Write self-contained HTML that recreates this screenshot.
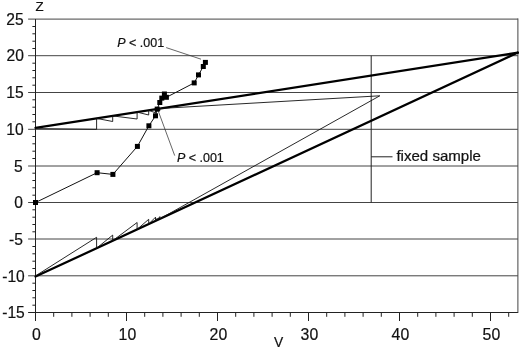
<!DOCTYPE html><html><head><meta charset="utf-8"><title>Sequential plot</title>
<style>html,body{margin:0;padding:0;background:#fff}svg{display:block}text{font-family:"Liberation Sans",Arial,sans-serif;fill:#111;stroke:#111;stroke-width:0.2px}</style></head><body>
<svg width="520" height="349" viewBox="0 0 520 349">
<rect width="520" height="349" fill="#fff"/>
<g stroke="#444" stroke-width="1" fill="none">
<line x1="28.1" y1="275.8" x2="517.9" y2="275.8"/>
<line x1="28.1" y1="239.0" x2="517.9" y2="239.0"/>
<line x1="28.1" y1="202.5" x2="517.9" y2="202.5"/>
<line x1="28.1" y1="166.0" x2="517.9" y2="166.0"/>
<line x1="28.1" y1="129.3" x2="517.9" y2="129.3"/>
<line x1="28.1" y1="92.5" x2="517.9" y2="92.5"/>
<line x1="28.1" y1="55.7" x2="517.9" y2="55.7"/>
<line x1="28.1" y1="19.1" x2="517.9" y2="19.1"/>
<line x1="517.9" y1="18.4" x2="517.9" y2="313.0"/>
</g>
<g stroke="#222" stroke-width="1" fill="none">
<line x1="32.4" y1="305.2" x2="35.5" y2="305.2"/>
<line x1="32.4" y1="297.8" x2="35.5" y2="297.8"/>
<line x1="32.4" y1="290.5" x2="35.5" y2="290.5"/>
<line x1="32.4" y1="283.2" x2="35.5" y2="283.2"/>
<line x1="32.4" y1="268.5" x2="35.5" y2="268.5"/>
<line x1="32.4" y1="261.2" x2="35.5" y2="261.2"/>
<line x1="32.4" y1="253.8" x2="35.5" y2="253.8"/>
<line x1="32.4" y1="246.5" x2="35.5" y2="246.5"/>
<line x1="32.4" y1="231.8" x2="35.5" y2="231.8"/>
<line x1="32.4" y1="224.5" x2="35.5" y2="224.5"/>
<line x1="32.4" y1="217.2" x2="35.5" y2="217.2"/>
<line x1="32.4" y1="209.8" x2="35.5" y2="209.8"/>
<line x1="32.4" y1="195.2" x2="35.5" y2="195.2"/>
<line x1="32.4" y1="187.8" x2="35.5" y2="187.8"/>
<line x1="32.4" y1="180.5" x2="35.5" y2="180.5"/>
<line x1="32.4" y1="173.2" x2="35.5" y2="173.2"/>
<line x1="32.4" y1="158.5" x2="35.5" y2="158.5"/>
<line x1="32.4" y1="151.2" x2="35.5" y2="151.2"/>
<line x1="32.4" y1="143.8" x2="35.5" y2="143.8"/>
<line x1="32.4" y1="136.5" x2="35.5" y2="136.5"/>
<line x1="32.4" y1="121.8" x2="35.5" y2="121.8"/>
<line x1="32.4" y1="114.5" x2="35.5" y2="114.5"/>
<line x1="32.4" y1="107.2" x2="35.5" y2="107.2"/>
<line x1="32.4" y1="99.8" x2="35.5" y2="99.8"/>
<line x1="32.4" y1="85.2" x2="35.5" y2="85.2"/>
<line x1="32.4" y1="77.8" x2="35.5" y2="77.8"/>
<line x1="32.4" y1="70.5" x2="35.5" y2="70.5"/>
<line x1="32.4" y1="63.2" x2="35.5" y2="63.2"/>
<line x1="32.4" y1="48.5" x2="35.5" y2="48.5"/>
<line x1="32.4" y1="41.2" x2="35.5" y2="41.2"/>
<line x1="32.4" y1="33.8" x2="35.5" y2="33.8"/>
<line x1="32.4" y1="26.5" x2="35.5" y2="26.5"/>
<line x1="35.5" y1="19.1" x2="35.5" y2="321.0"/>
<line x1="28.1" y1="312.5" x2="517.9" y2="312.5"/>
<line x1="53.7" y1="312.5" x2="53.7" y2="316.8"/>
<line x1="71.9" y1="312.5" x2="71.9" y2="316.8"/>
<line x1="90.1" y1="312.5" x2="90.1" y2="316.8"/>
<line x1="108.3" y1="312.5" x2="108.3" y2="316.8"/>
<line x1="126.5" y1="312.5" x2="126.5" y2="321.0"/>
<line x1="144.7" y1="312.5" x2="144.7" y2="316.8"/>
<line x1="162.9" y1="312.5" x2="162.9" y2="316.8"/>
<line x1="181.1" y1="312.5" x2="181.1" y2="316.8"/>
<line x1="199.3" y1="312.5" x2="199.3" y2="316.8"/>
<line x1="217.5" y1="312.5" x2="217.5" y2="321.0"/>
<line x1="235.7" y1="312.5" x2="235.7" y2="316.8"/>
<line x1="253.9" y1="312.5" x2="253.9" y2="316.8"/>
<line x1="272.1" y1="312.5" x2="272.1" y2="316.8"/>
<line x1="290.3" y1="312.5" x2="290.3" y2="316.8"/>
<line x1="308.5" y1="312.5" x2="308.5" y2="321.0"/>
<line x1="326.7" y1="312.5" x2="326.7" y2="316.8"/>
<line x1="344.9" y1="312.5" x2="344.9" y2="316.8"/>
<line x1="363.1" y1="312.5" x2="363.1" y2="316.8"/>
<line x1="381.3" y1="312.5" x2="381.3" y2="316.8"/>
<line x1="399.5" y1="312.5" x2="399.5" y2="321.0"/>
<line x1="417.7" y1="312.5" x2="417.7" y2="316.8"/>
<line x1="435.9" y1="312.5" x2="435.9" y2="316.8"/>
<line x1="454.1" y1="312.5" x2="454.1" y2="316.8"/>
<line x1="472.3" y1="312.5" x2="472.3" y2="316.8"/>
<line x1="490.5" y1="312.5" x2="490.5" y2="321.0"/>
<line x1="508.7" y1="312.5" x2="508.7" y2="316.8"/>
</g>
<text transform="translate(24.75,318.35) scale(0.975,1)" font-size="16" text-anchor="end">-15</text>
<text transform="translate(24.75,281.50) scale(0.975,1)" font-size="16" text-anchor="end">-10</text>
<text transform="translate(22.95,244.80) scale(0.975,1)" font-size="16" text-anchor="end">-5</text>
<text transform="translate(22.95,208.25) scale(0.975,1)" font-size="16" text-anchor="end">0</text>
<text transform="translate(22.70,171.50) scale(0.975,1)" font-size="16" text-anchor="end">5</text>
<text transform="translate(23.70,134.50) scale(0.975,1)" font-size="16" text-anchor="end">10</text>
<text transform="translate(23.70,98.25) scale(0.975,1)" font-size="16" text-anchor="end">15</text>
<text transform="translate(23.85,61.35) scale(0.975,1)" font-size="16" text-anchor="end">20</text>
<text transform="translate(23.70,24.50) scale(0.975,1)" font-size="16" text-anchor="end">25</text>
<text transform="translate(36.40,339.50) scale(0.99,1)" font-size="16" text-anchor="middle">0</text>
<text transform="translate(127.40,339.50) scale(0.99,1)" font-size="16" text-anchor="middle">10</text>
<text transform="translate(218.40,339.50) scale(0.99,1)" font-size="16" text-anchor="middle">20</text>
<text transform="translate(309.40,339.50) scale(0.99,1)" font-size="16" text-anchor="middle">30</text>
<text transform="translate(400.40,339.50) scale(0.99,1)" font-size="16" text-anchor="middle">40</text>
<text transform="translate(491.40,339.50) scale(0.99,1)" font-size="16" text-anchor="middle">50</text>
<text transform="translate(35.60,11.40) scale(1.0,1)" font-size="13.3" text-anchor="start">Z</text>
<text transform="translate(274.00,347.30) scale(1.0,1)" font-size="13.8" text-anchor="start">V</text>
<g stroke="#222" stroke-width="1" fill="none"><line x1="371.2" y1="55.7" x2="371.2" y2="202.5"/><line x1="371.2" y1="156.8" x2="392.5" y2="156.8"/></g>
<text transform="translate(396.40,161.30) scale(1.077,1)" font-size="14" text-anchor="start" stroke-width="0.15">fixed sample</text>
<g stroke="#000" stroke-width="2.25" stroke-linecap="round" fill="none">
<line x1="35.5" y1="127.9" x2="517.9" y2="52.7"/>
<line x1="35.5" y1="276.6" x2="517.9" y2="52.6"/>
</g>
<g stroke="#111" stroke-width="0.9" fill="none" stroke-linejoin="miter">
<polyline points="35.5,128.6 96.6,129.3 96.6,118.4 112.7,121.5 112.7,115.9 137.1,119.0 137.1,112.1 148.7,115.0 148.7,110.3 155.5,112.8 155.5,109.2 157.2,110.8 157.2,108.9 159.8,110.8 159.8,108.5 379.8,95.8"/>
<polyline points="35.5,275.9 96.6,237.3 96.6,248.2 112.7,235.1 112.7,240.7 137.1,222.5 137.1,229.4 148.7,219.3 148.7,224.0 155.5,217.2 155.5,220.9 157.2,218.3 157.2,220.1 159.8,216.6 159.8,218.9 379.8,95.8"/>
<line x1="166.2" y1="47.6" x2="201" y2="59.2" stroke-width="0.75" stroke="#333"/>
<line x1="157.5" y1="109" x2="174.7" y2="155.6" stroke-width="0.75" stroke="#333"/>
</g>
<polyline fill="none" stroke="#111" stroke-width="1" points="35.5,202.5 97.1,172.7 112.9,174.4 137.4,146.4 148.9,125.8 155.5,115.8 157.2,109.1 159.8,102.5 161.8,98.1 164.4,94.0 166.4,97.3 194.2,82.9 198.5,74.9 203.3,66.5 205.4,62.4"/>
<g fill="#000">
<rect x="33.0" y="200.0" width="5" height="5"/>
<rect x="94.6" y="170.2" width="5" height="5"/>
<rect x="110.4" y="171.9" width="5" height="5"/>
<rect x="134.9" y="143.9" width="5" height="5"/>
<rect x="146.4" y="123.3" width="5" height="5"/>
<rect x="153.0" y="113.3" width="5" height="5"/>
<rect x="154.7" y="106.6" width="5" height="5"/>
<rect x="157.3" y="100.0" width="5" height="5"/>
<rect x="159.3" y="95.6" width="5" height="5"/>
<rect x="161.9" y="91.5" width="5" height="5"/>
<rect x="163.9" y="94.8" width="5" height="5"/>
<rect x="191.7" y="80.4" width="5" height="5"/>
<rect x="196.0" y="72.4" width="5" height="5"/>
<rect x="200.8" y="64.0" width="5" height="5"/>
<rect x="202.9" y="59.9" width="5" height="5"/>
</g>
<text transform="translate(117.20,47.10) scale(1.0,1)" font-size="12.5" text-anchor="start"><tspan font-style="italic">P</tspan> &lt; .001</text>
<text transform="translate(176.90,162.00) scale(1.0,1)" font-size="12.5" text-anchor="start"><tspan font-style="italic">P</tspan> &lt; .001</text>
</svg></body></html>
